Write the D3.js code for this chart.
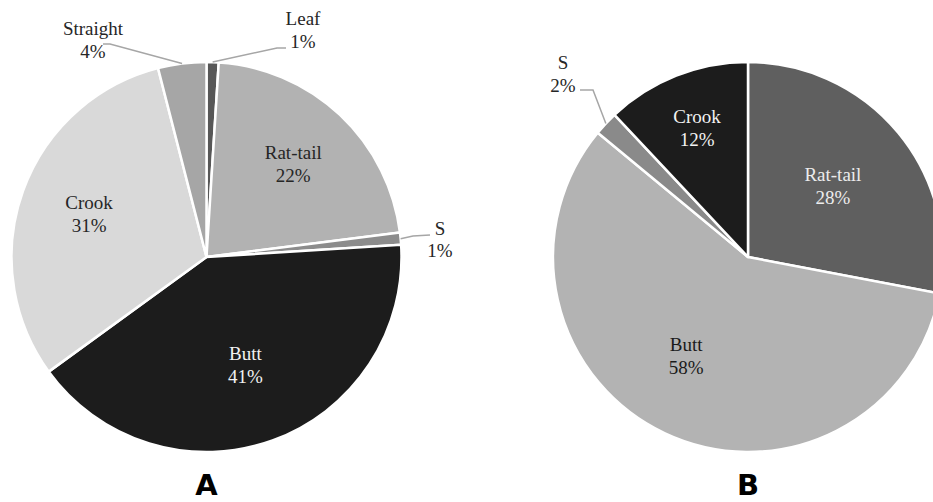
<!DOCTYPE html>
<html>
<head>
<meta charset="utf-8">
<script src="https://cdn.jsdelivr.net/npm/d3@7"></script>
<style>
  body { margin: 0; background: #fff; }
  svg { display: block; }
</style>
</head>
<body>
<div id="chart"></div>
<script>
// data
const categoriesA = ["Leaf", "Rat-tail", "S", "Butt", "Crook", "Straight"];
const valuesA = [1, 22, 1, 41, 31, 4];
const categoriesB = ["Rat-tail", "Butt", "S", "Crook"];
const valuesB = [28, 58, 2, 12];
const panelLabels = ["A", "B"];

// styles
const fillA = ["#575757", "#b2b2b2", "#8c8c8c", "#1c1c1c", "#d9d9d9", "#a6a6a6"];
const textA = ["#262626", "#262626", "#262626", "#f2f2f2", "#262626", "#262626"];
const fillB = ["#5f5f5f", "#b3b3b3", "#8a8a8a", "#1c1c1c"];
const textB = ["#ececec", "#1a1a1a", "#262626", "#f2f2f2"];

const serif = "'Liberation Serif', 'Times New Roman', serif";

const width = 933;
const height = 502;

const svg = d3.select("#chart").append("svg")
	.attr("width", width)
	.attr("height", height);

// inside: radius factor (+ nudge); outside: label centre + leader elbow/end, relative to pie centre
function drawPie(cx, cy, radius, cats, vals, fills, textColors, layout, panel) {
	var g = svg.append("g").attr("transform", "translate(" + cx + "," + cy + ")");

	var pie = d3.pie().sort(null).value(d => d.value);
	var arcs = pie(cats.map((c, i) => ({ name: c, value: vals[i], fill: fills[i], tc: textColors[i] })));

	var arc = d3.arc().innerRadius(0).outerRadius(radius);

	g.selectAll("path.slice")
		.data(arcs)
		.enter().append("path")
		.attr("class", "slice")
		.attr("d", arc)
		.attr("fill", d => d.data.fill)
		.attr("stroke", "#fff")
		.attr("stroke-width", 2.5)
		.attr("stroke-linejoin", "round");

	arcs.forEach(function(d) {
		var lay = layout[d.data.name];
		var x, y;
		if (lay.outside) {
			var rim = d3.arc().innerRadius(radius).outerRadius(radius).centroid(d);
			g.append("polyline")
				.attr("points", [rim, lay.elbow, lay.end].map(p => p.join(",")).join(" "))
				.attr("fill", "none")
				.attr("stroke", "#a6a6a6")
				.attr("stroke-width", 1.5);
			x = lay.label[0];
			y = lay.label[1];
		} else {
			var c = d3.arc().innerRadius(0).outerRadius(radius * lay.r * 2).centroid(d);
			x = c[0] + (lay.dx || 0);
			y = c[1] + (lay.dy || 0);
		}
		var gap = lay.gap || 23;
		var t = g.append("text")
			.attr("font-family", serif)
			.attr("font-size", 19)
			.attr("text-anchor", "middle")
			.attr("fill", d.data.tc);
		t.append("tspan").attr("x", x).attr("y", y - gap / 2 + 6).text(d.data.name);
		t.append("tspan").attr("x", x).attr("y", y + gap / 2 + 6).text(d.data.value + "%");
	});

	// panel letter
	svg.append("text")
		.attr("font-family", "'DejaVu Sans', sans-serif")
		.attr("font-size", 29)
		.attr("font-weight", "bold")
		.attr("text-anchor", "middle")
		.attr("x", cx)
		.attr("y", 495)
		.text(panel);
}

var layoutA = {
	"Leaf": { outside: true, label: [96.5, -227], elbow: [70.5, -209], end: [79.5, -209] },
	"Rat-tail": { r: 0.65 },
	"S": { outside: true, label: [233.5, -17], elbow: [206.5, -21], end: [223.5, -22], gap: 22 },
	"Butt": { r: 0.59 },
	"Crook": { r: 0.64 },
	"Straight": { outside: true, label: [-113.5, -216.5], elbow: [-96.5, -213], end: [-103.5, -213] }
};

var layoutB = {
	"Rat-tail": { r: 0.565 },
	"Butt": { r: 0.6, dx: -12, dy: -6 },
	"S": { outside: true, label: [-185, -183], elbow: [-155, -167], end: [-168, -167] },
	"Crook": { r: 0.71 }
};

drawPie(206.5, 257, 195, categoriesA, valuesA, fillA, textA, layoutA, panelLabels[0]);
drawPie(748, 257, 195, categoriesB, valuesB, fillB, textB, layoutB, panelLabels[1]);
</script>
</body>
</html>
